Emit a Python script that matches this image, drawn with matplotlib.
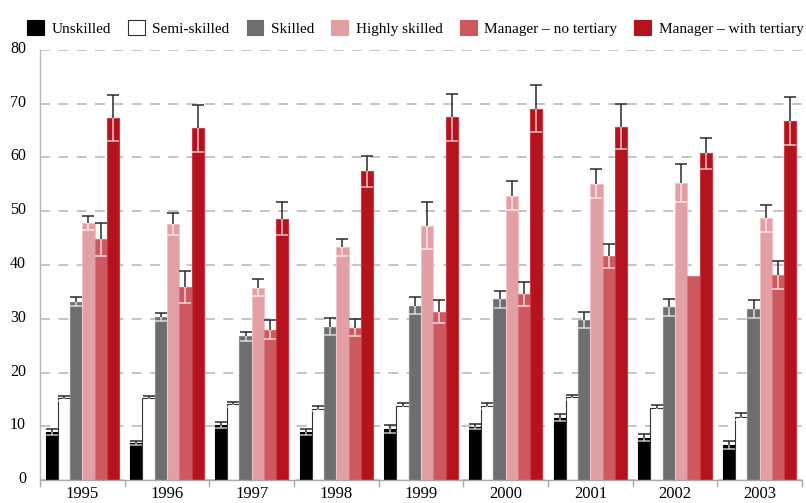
import numpy as np
import matplotlib.pyplot as plt
import matplotlib.transforms as mtransforms
from matplotlib.patches import Patch

plt.rcParams['font.family'] = ['Liberation Serif', 'DejaVu Serif']

years = ['1995', '1996', '1997', '1998', '1999', '2000', '2001', '2002', '2003']
groups = ['Unskilled', 'Semi-skilled', 'Skilled', 'Highly skilled',
          'Manager \u2013 no tertiary', 'Manager \u2013 with tertiary']

unskilled = [8.9, 6.9, 10.2, 8.9, 9.5, 9.9, 11.6, 7.9, 6.5]
unskilled_err = [0.5, 0.4, 0.5, 0.5, 0.7, 0.5, 0.7, 0.7, 0.7]
semi = [15.2, 15.2, 14.1, 13.3, 13.8, 13.8, 15.4, 13.4, 11.8]
semi_err = [0.5, 0.5, 0.5, 0.5, 0.5, 0.5, 0.5, 0.5, 0.6]
skilled = [33.2, 30.3, 26.7, 28.5, 32.4, 33.6, 29.8, 32.1, 31.8]
skilled_err = [0.8, 0.8, 0.8, 1.6, 1.6, 1.6, 1.5, 1.5, 1.6]
highly = [47.9, 47.6, 35.8, 43.3, 47.3, 52.9, 55.1, 55.2, 48.7]
highly_err = [1.3, 2.0, 1.6, 1.6, 4.4, 2.7, 2.7, 3.5, 2.5]
mgr_no = [44.8, 35.9, 28.0, 28.3, 31.3, 34.6, 41.7, 38.0, 38.1]
mgr_no_err = [3.1, 2.9, 1.8, 1.6, 2.1, 2.2, 2.2, np.nan, 2.6]
mgr_with = [67.3, 65.4, 48.6, 57.4, 67.5, 69.1, 65.7, 60.8, 66.8]
mgr_with_err = [4.3, 4.3, 3.1, 2.8, 4.4, 4.4, 4.2, 2.9, 4.5]

values = [unskilled, semi, skilled, highly, mgr_no, mgr_with]
errors = [unskilled_err, semi_err, skilled_err, highly_err, mgr_no_err, mgr_with_err]

fills = ['#000000', '#ffffff', '#6d6e70', '#e2a0a4', '#cd5860', '#b5121e']
edges = ['#000000', '#333333', '#8a8a8c', '#f0c4c7', '#d8787e', '#c83a44']

fig = plt.figure(figsize=(8.06, 5.03), dpi=100)
ax = fig.add_axes([40 / 806, 23 / 503, 762 / 806, 430 / 503])

x = np.arange(len(years)) + 0.5
w = 0.145
for i, (vals, errs) in enumerate(zip(values, errors)):
    xi = x + (i - 2.5) * w
    v = np.array(vals)
    e = np.array(errs)
    ax.bar(xi, v, width=w, color=fills[i], edgecolor=edges[i], linewidth=0.8, zorder=2)
    # upper half of the error bar in dark, lower half light over the bar
    ax.vlines(xi, v, v + e, color='#2a2a2a', linewidth=1.1, zorder=3)
    ax.plot(xi, v + e, ls='none', marker='_', ms=8, mew=1.1, color='#2a2a2a', zorder=3)
    ax.vlines(xi, v - e, v, color='white', alpha=0.75, linewidth=1.1, zorder=3)
    ax.plot(xi, v - e, ls='none', marker='_', ms=8, mew=1.1, color='white', alpha=0.75, zorder=3)

ax.set_xlim(0, len(years))
ax.set_ylim(0, 80)
ax.set_yticks(np.arange(0, 81, 10))
ax.tick_params(axis='y', length=0, pad=10, labelsize=11.5)
lift = mtransforms.ScaledTranslation(0, 3 / 100, fig.dpi_scale_trans)
for lab in ax.get_yticklabels():
    lab.set_transform(lab.get_transform() + lift)
ax.set_xticks(np.arange(len(years) + 1))
ax.set_xticklabels([])
ax.set_xticks(x, minor=True)
ax.set_xticklabels(years, minor=True, fontsize=12)
ax.tick_params(axis='x', which='major', length=5, color='#aaaaaa', width=1)
ax.tick_params(axis='x', which='minor', length=0, pad=4)

ax.yaxis.grid(True, color='#b4b4b4', linewidth=1.1, linestyle=(0, (6.5, 5.5)), zorder=0)
ax.set_axisbelow(True)
for s in ['top', 'right']:
    ax.spines[s].set_visible(False)
ax.spines['left'].set_color('#b8b8b8')
ax.spines['bottom'].set_color('#a8a8a8')
ax.spines['left'].set_linewidth(1)
ax.spines['bottom'].set_linewidth(1)

handles = [Patch(facecolor=fills[i], edgecolor=('#333333' if i == 1 else fills[i]), linewidth=0.8)
           for i in range(len(groups))]
fig.legend(handles, groups, loc='upper left', bbox_to_anchor=(27 / 806, 1 - 20 / 503),
           ncol=6, frameon=False, fontsize=11, handlelength=1.1, handleheight=1.1,
           handletextpad=0.5, columnspacing=1.12, borderaxespad=0, borderpad=0)

fig.savefig('out.png', dpi=100)
